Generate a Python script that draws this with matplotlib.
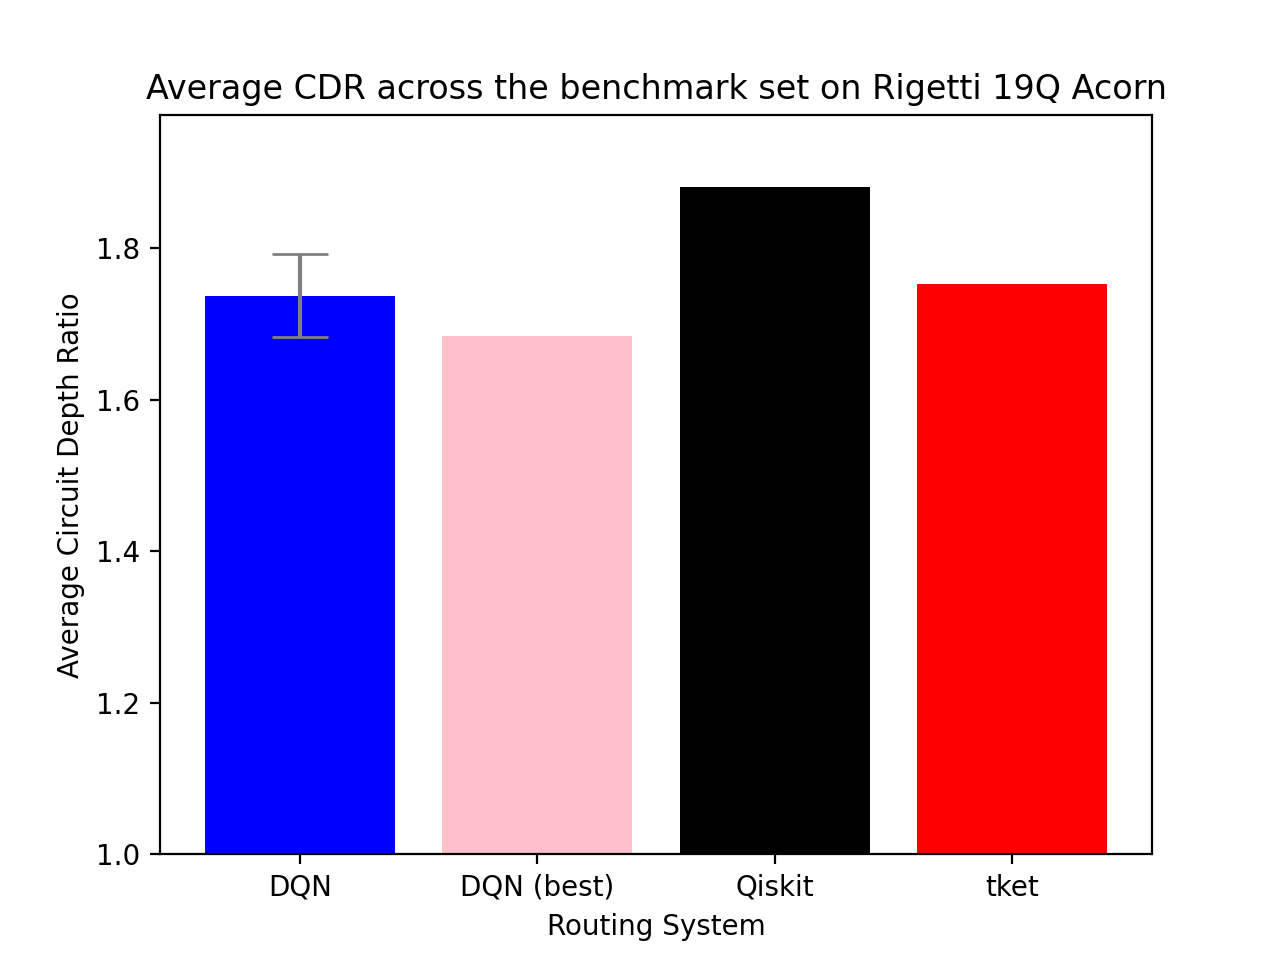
import matplotlib
matplotlib.use('Agg')
import matplotlib.pyplot as plt

# routing systems and their average circuit depth ratio
systems = ['DQN', 'DQN (best)', 'Qiskit', 'tket']
avg_cdr = [1.737, 1.684, 1.881, 1.752]
errors = [0.055, 0, 0, 0]
colours = ['blue', 'pink', 'black', 'red']

fig = plt.figure(figsize=(6.4, 4.8), dpi=200)
ax = fig.add_subplot(111)

bars = ax.bar(systems, avg_cdr, color=colours)
# only the DQN bar has an error bar
ax.errorbar(systems[0], avg_cdr[0], yerr=errors[0], ecolor='gray',
            capsize=10, fmt='none')

ax.set_ylim(bottom=1.0)
ax.set_title('Average CDR across the benchmark set on Rigetti 19Q Acorn')
ax.set_xlabel('Routing System')
ax.set_ylabel('Average Circuit Depth Ratio')

plt.savefig('out.png')
